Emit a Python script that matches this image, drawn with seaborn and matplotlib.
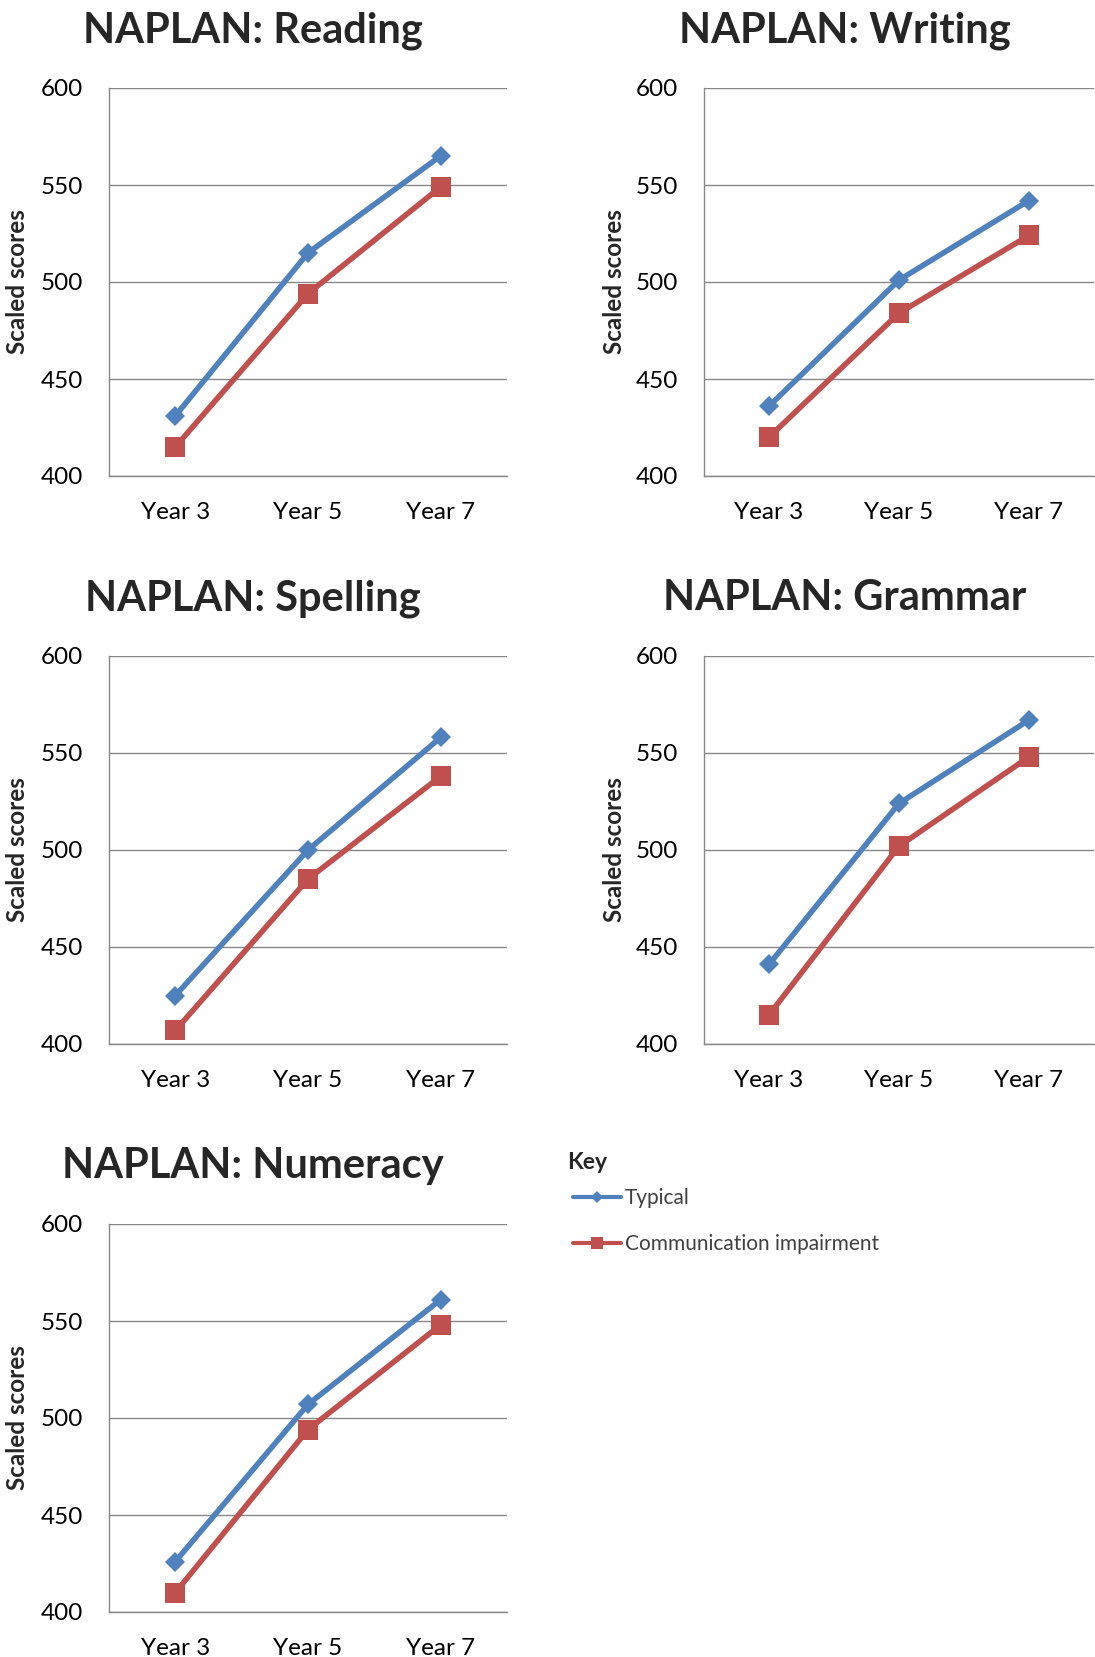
import pandas as pd
import seaborn as sns
import matplotlib.pyplot as plt
from matplotlib.lines import Line2D

# values
years = ['Year 3', 'Year 5', 'Year 7']
groups = ['Typical', 'Communication impairment']
reading_typical = [431, 515, 565]
reading_impaired = [415, 494, 549]
writing_typical = [436, 501, 542]
writing_impaired = [420, 484, 524]
spelling_typical = [425, 500, 558]
spelling_impaired = [407, 485, 538]
grammar_typical = [441, 524, 567]
grammar_impaired = [415, 502, 548]
numeracy_typical = [426, 507, 561]
numeracy_impaired = [410, 494, 548]
y_ticks = [400, 450, 500, 550, 600]

BLUE = '#4F81BD'
RED = '#C0504D'
GRID = '#878787'

W, H = 1095, 1657


def make_df(typical, impaired):
    """Long dataframe for one panel."""
    df = pd.DataFrame({'year': years * 2,
                       'score': typical + impaired,
                       'group': [groups[0]] * 3 + [groups[1]] * 3})
    return df


def panel(fig, box, title, typical, impaired):
    # box = left, top, right, bottom in pixels
    l, t, r, b = box
    ax = fig.add_axes([l / W, 1 - b / H, (r - l) / W, (b - t) / H])
    df = make_df(typical, impaired)

    sns.lineplot(data=df[df['group'] == groups[0]], x='year', y='score', ax=ax, color=BLUE,
                 lw=4, marker='D', markersize=10.5, markeredgewidth=0, legend=False)
    sns.lineplot(data=df[df['group'] == groups[1]], x='year', y='score', ax=ax, color=RED,
                 lw=4, marker='s', markersize=14, markeredgewidth=0, legend=False)

    ax.set_xlim(-0.5, 2.5)
    ax.set_ylim(400, 600)
    ax.set_yticks(y_ticks)
    ax.yaxis.grid(True, color=GRID, lw=1.0)
    ax.xaxis.grid(False)
    ax.set_axisbelow(True)
    for side in ['top', 'right']:
        ax.spines[side].set_visible(False)
    for side in ['left', 'bottom']:
        ax.spines[side].set_color(GRID)
        ax.spines[side].set_linewidth(1.0)
    ax.tick_params(axis='both', length=0, labelsize=17.5, pad=19, colors='black')

    ax.set_xlabel('')
    ax.set_ylabel('Scaled scores', fontsize=17.5, fontweight='bold')
    ax.yaxis.set_label_coords(-0.2, 0.5)
    ax.set_title(title, x=0.362, fontsize=30, fontweight='bold', pad=33)
    return ax


sns.set_style('white')
plt.rcParams['font.family'] = ['Lato', 'DejaVu Sans']

fig = plt.figure(figsize=(W / 100, H / 100), dpi=100)

panel(fig, (109, 88, 507, 476), 'NAPLAN: Reading', reading_typical, reading_impaired)
panel(fig, (704, 88, 1094, 476), 'NAPLAN: Writing', writing_typical, writing_impaired)
panel(fig, (109, 656, 507, 1044), 'NAPLAN: Spelling', spelling_typical, spelling_impaired)
panel(fig, (704, 656, 1094, 1044), 'NAPLAN: Grammar', grammar_typical, grammar_impaired)
panel(fig, (109, 1224, 507, 1612), 'NAPLAN: Numeracy', numeracy_typical, numeracy_impaired)

# key
fig.text(567 / W, 1 - 1169 / H, 'Key', fontsize=16.5, fontweight='bold', ha='left', va='baseline')
handles = [Line2D([], [], color=BLUE, lw=3, marker='D', markersize=6, markeredgewidth=0),
           Line2D([], [], color=RED, lw=3, marker='s', markersize=8.5, markeredgewidth=0)]
leg = fig.legend(handles, groups, loc='upper left',
                 bbox_to_anchor=(573 / W, 1 - 1188 / H), frameon=False,
                 fontsize=15, handlelength=2.3, handletextpad=0.2, labelspacing=1.25,
                 borderpad=0, borderaxespad=0)
for txt in leg.get_texts():
    txt.set_color('#404040')

fig.savefig('out.png', dpi=100)
